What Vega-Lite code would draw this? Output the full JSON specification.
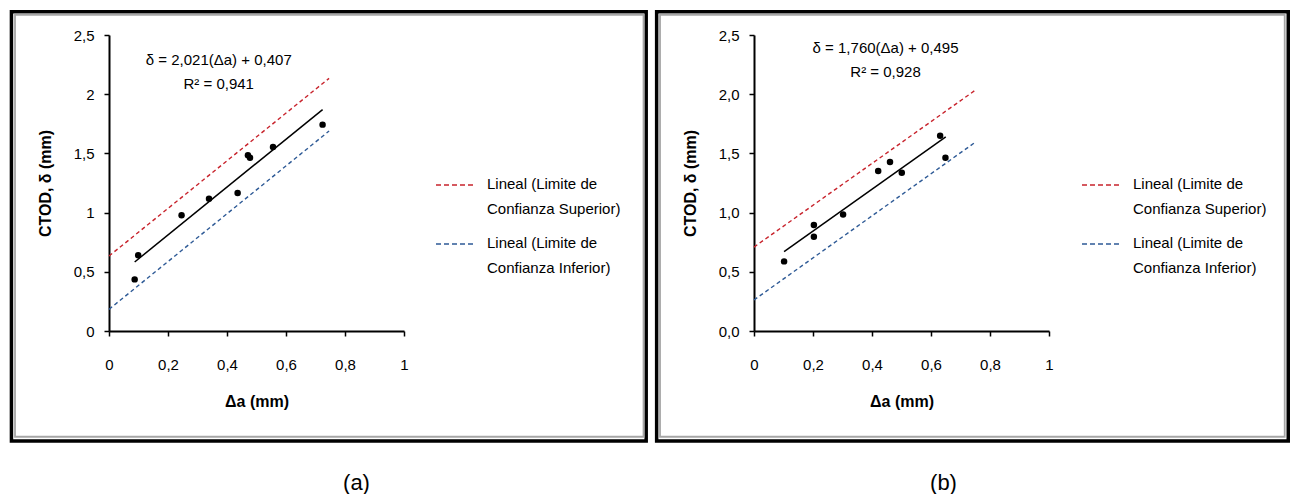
{
  "$schema": "https://vega.github.io/schema/vega-lite/v6.json",
  "background": "white",
  "padding": {"left": 9, "top": 9, "right": 0, "bottom": 0},
  "spacing": 6,
  "datasets": {
    "a_pts": [
      {"x": 0.087, "y": 0.436}, {"x": 0.099, "y": 0.639}, {"x": 0.246, "y": 0.977},
      {"x": 0.339, "y": 1.118}, {"x": 0.436, "y": 1.166}, {"x": 0.471, "y": 1.484},
      {"x": 0.478, "y": 1.464}, {"x": 0.556, "y": 1.554}, {"x": 0.724, "y": 1.743}
    ],
    "a_fit": [{"x": 0.087, "y": 0.583}, {"x": 0.724, "y": 1.87}],
    "a_lim": [
      {"serie": "Lineal (Limite de Confianza Superior)", "x": 0, "y": 0.633},
      {"serie": "Lineal (Limite de Confianza Superior)", "x": 0.746, "y": 2.134},
      {"serie": "Lineal (Limite de Confianza Inferior)", "x": 0, "y": 0.183},
      {"serie": "Lineal (Limite de Confianza Inferior)", "x": 0.746, "y": 1.689}
    ],
    "b_pts": [
      {"x": 0.102, "y": 0.588}, {"x": 0.203, "y": 0.895}, {"x": 0.203, "y": 0.797},
      {"x": 0.302, "y": 0.983}, {"x": 0.421, "y": 1.351}, {"x": 0.461, "y": 1.427},
      {"x": 0.501, "y": 1.337}, {"x": 0.631, "y": 1.65}, {"x": 0.649, "y": 1.464}
    ],
    "b_fit": [{"x": 0.102, "y": 0.67}, {"x": 0.65, "y": 1.639}],
    "b_lim": [
      {"serie": "Lineal (Limite de Confianza Superior)", "x": 0, "y": 0.709},
      {"serie": "Lineal (Limite de Confianza Superior)", "x": 0.751, "y": 2.035},
      {"serie": "Lineal (Limite de Confianza Inferior)", "x": 0, "y": 0.262},
      {"serie": "Lineal (Limite de Confianza Inferior)", "x": 0.751, "y": 1.596}
    ]
  },
  "resolve": {"scale": {"color": "independent", "x": "independent", "y": "independent"}, "legend": {"color": "independent"}},
  "hconcat": [
    {
      "width": 295,
      "height": 296,
      "title": {"text": "(a)", "orient": "bottom", "anchor": "middle", "font": "Liberation Sans", "fontSize": 22, "fontWeight": "normal", "color": "black", "offset": 30, "dx": 100},
      "layer": [
        {
          "data": {"values": [{}]},
          "mark": {"type": "rect", "filled": false, "color": "black", "strokeWidth": 3.5},
          "encoding": {
            "x": {"datum": -0.3307, "type": "quantitative", "scale": {"domain": [0, 1], "nice": false}},
            "x2": {"datum": 1.821},
            "y": {"datum": 2.697, "type": "quantitative", "scale": {"domain": [0, 2.5], "nice": false}},
            "y2": {"datum": -0.928}
          }
        },
        {
          "data": {"values": [{}]},
          "mark": {"type": "rect", "filled": false, "color": "#a6a6a6", "strokeWidth": 1.8},
          "encoding": {
            "x": {"datum": -0.3186, "type": "quantitative", "scale": {"domain": [0, 1], "nice": false}},
            "x2": {"datum": 1.812},
            "y": {"datum": 2.671, "type": "quantitative", "scale": {"domain": [0, 2.5], "nice": false}},
            "y2": {"datum": -0.893}
          }
        },
        {
          "data": {"name": "a_lim"},
          "mark": {"type": "line", "strokeDash": [4, 3], "strokeWidth": 1.4},
          "encoding": {
            "x": {"field": "x", "type": "quantitative", "scale": {"domain": [0, 1], "nice": false}},
            "y": {"field": "y", "type": "quantitative", "scale": {"domain": [0, 2.5], "nice": false}},
            "color": {
              "field": "serie", "type": "nominal",
              "scale": {"domain": ["Lineal (Limite de Confianza Superior)", "Lineal (Limite de Confianza Inferior)"], "range": ["#C8232C", "#2E5A96"]},
              "legend": {
                "title": null, "orient": "none", "legendX": 326, "legendY": 130, "padding": 0,
                "symbolType": "stroke", "symbolSize": 1444, "symbolStrokeWidth": 1.5, "symbolDash": [5, 3],
                "labelFont": "Liberation Sans", "labelFontSize": 15, "labelColor": "black", "labelOffset": 12, "labelLimit": 0,
                "labelBaseline": "top", "rowPadding": 7,
                "labelExpr": "[substring(datum.label, 0, 17), substring(datum.label, 18)]",
                "encode": {"labels": {"update": {"lineHeight": {"value": 25}, "dy": {"value": -8}}}}
              }
            }
          }
        },
        {
          "data": {"name": "a_fit"},
          "mark": {"type": "line", "color": "black", "strokeWidth": 1.5},
          "encoding": {
            "x": {"field": "x", "type": "quantitative", "scale": {"domain": [0, 1], "nice": false}},
            "y": {"field": "y", "type": "quantitative", "scale": {"domain": [0, 2.5], "nice": false}}
          }
        },
        {
          "data": {"name": "a_pts"},
          "mark": {"type": "point", "filled": true, "color": "black", "size": 42, "opacity": 1},
          "encoding": {
            "x": {"field": "x", "type": "quantitative", "scale": {"domain": [0, 1], "nice": false}, "title": "Δa (mm)",
                  "axis": {"values": [0, 0.2, 0.4, 0.6, 0.8, 1], "labelFlush": false, "format": "~g"}},
            "y": {"field": "y", "type": "quantitative", "scale": {"domain": [0, 2.5], "nice": false}, "title": "CTOD, δ (mm)",
                  "axis": {"values": [0, 0.5, 1, 1.5, 2, 2.5], "format": "~g"}}
          }
        },
        {
          "data": {"values": [{}]},
          "mark": {"type": "text", "font": "Liberation Sans", "fontSize": 15, "color": "black", "align": "center", "baseline": "middle", "lineHeight": 24},
          "encoding": {
            "x": {"datum": 0.372, "type": "quantitative", "scale": {"domain": [0, 1], "nice": false}},
            "y": {"datum": 2.286, "type": "quantitative", "scale": {"domain": [0, 2.5], "nice": false}},
            "text": {"value": ["δ = 2,021(Δa) + 0,407", "R² = 0,941"]}
          }
        }
      ]
    },
    {
      "width": 295,
      "height": 296,
      "title": {"text": "(b)", "orient": "bottom", "anchor": "middle", "font": "Liberation Sans", "fontSize": 22, "fontWeight": "normal", "color": "black", "offset": 30, "dx": 42},
      "layer": [
        {
          "data": {"values": [{}]},
          "mark": {"type": "rect", "filled": false, "color": "black", "strokeWidth": 3.5},
          "encoding": {
            "x": {"datum": -0.330, "type": "quantitative", "scale": {"domain": [0, 1], "nice": false}},
            "x2": {"datum": 1.811},
            "y": {"datum": 2.697, "type": "quantitative", "scale": {"domain": [0, 2.5], "nice": false}},
            "y2": {"datum": -0.928}
          }
        },
        {
          "data": {"values": [{}]},
          "mark": {"type": "rect", "filled": false, "color": "#a6a6a6", "strokeWidth": 1.8},
          "encoding": {
            "x": {"datum": -0.3186, "type": "quantitative", "scale": {"domain": [0, 1], "nice": false}},
            "x2": {"datum": 1.799},
            "y": {"datum": 2.671, "type": "quantitative", "scale": {"domain": [0, 2.5], "nice": false}},
            "y2": {"datum": -0.893}
          }
        },
        {
          "data": {"name": "b_lim"},
          "mark": {"type": "line", "strokeDash": [4, 3], "strokeWidth": 1.4},
          "encoding": {
            "x": {"field": "x", "type": "quantitative", "scale": {"domain": [0, 1], "nice": false}},
            "y": {"field": "y", "type": "quantitative", "scale": {"domain": [0, 2.5], "nice": false}},
            "color": {
              "field": "serie", "type": "nominal",
              "scale": {"domain": ["Lineal (Limite de Confianza Superior)", "Lineal (Limite de Confianza Inferior)"], "range": ["#C8232C", "#2E5A96"]},
              "legend": {
                "title": null, "orient": "none", "legendX": 327, "legendY": 130, "padding": 0,
                "symbolType": "stroke", "symbolSize": 1444, "symbolStrokeWidth": 1.5, "symbolDash": [5, 3],
                "labelFont": "Liberation Sans", "labelFontSize": 15, "labelColor": "black", "labelOffset": 12, "labelLimit": 0,
                "labelBaseline": "top", "rowPadding": 7,
                "labelExpr": "[substring(datum.label, 0, 17), substring(datum.label, 18)]",
                "encode": {"labels": {"update": {"lineHeight": {"value": 25}, "dy": {"value": -8}}}}
              }
            }
          }
        },
        {
          "data": {"name": "b_fit"},
          "mark": {"type": "line", "color": "black", "strokeWidth": 1.5},
          "encoding": {
            "x": {"field": "x", "type": "quantitative", "scale": {"domain": [0, 1], "nice": false}},
            "y": {"field": "y", "type": "quantitative", "scale": {"domain": [0, 2.5], "nice": false}}
          }
        },
        {
          "data": {"name": "b_pts"},
          "mark": {"type": "point", "filled": true, "color": "black", "size": 42, "opacity": 1},
          "encoding": {
            "x": {"field": "x", "type": "quantitative", "scale": {"domain": [0, 1], "nice": false}, "title": "Δa (mm)",
                  "axis": {"values": [0, 0.2, 0.4, 0.6, 0.8, 1], "labelFlush": false, "format": "~g"}},
            "y": {"field": "y", "type": "quantitative", "scale": {"domain": [0, 2.5], "nice": false}, "title": "CTOD, δ (mm)",
                  "axis": {"values": [0, 0.5, 1, 1.5, 2, 2.5], "format": ".1f"}}
          }
        },
        {
          "data": {"values": [{}]},
          "mark": {"type": "text", "font": "Liberation Sans", "fontSize": 15, "color": "black", "align": "center", "baseline": "middle", "lineHeight": 24},
          "encoding": {
            "x": {"datum": 0.446, "type": "quantitative", "scale": {"domain": [0, 1], "nice": false}},
            "y": {"datum": 2.387, "type": "quantitative", "scale": {"domain": [0, 2.5], "nice": false}},
            "text": {"value": ["δ = 1,760(Δa) + 0,495", "R² = 0,928"]}
          }
        }
      ]
    }
  ],
  "config": {
    "locale": {"number": {"decimal": ",", "thousands": ".", "grouping": [3], "currency": ["", " €"]}},
    "view": {"stroke": null},
    "font": "Liberation Sans",
    "axis": {
      "domainColor": "black", "domainWidth": 2, "tickColor": "black", "tickWidth": 1.5, "tickSize": 5, "grid": false,
      "labelFont": "Liberation Sans", "labelFontSize": 15, "labelColor": "black",
      "titleFont": "Liberation Sans", "titleFontSize": 16, "titleFontWeight": "bold", "titleColor": "black"
    },
    "axisX": {"labelPadding": 21, "titlePadding": 21},
    "axisY": {"labelPadding": 10, "titlePadding": 20, "titleFontSize": 16}
  }
}
